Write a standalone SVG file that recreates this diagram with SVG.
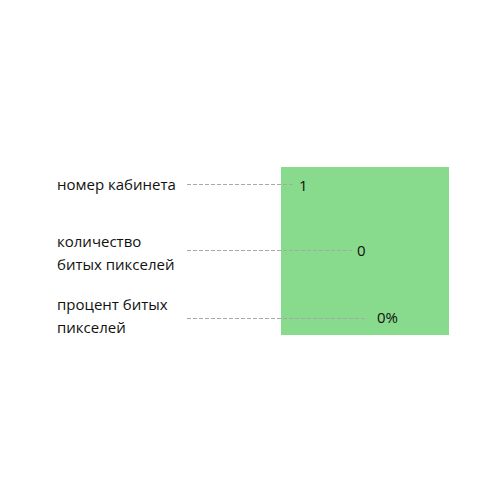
<svg xmlns="http://www.w3.org/2000/svg" width="500" height="500" viewBox="0 0 500 500">
<style>
text{font-family:"Open Sans","Noto Sans",sans-serif;font-size:15px;fill:#111}
.c line{stroke:#a8a8a8;stroke-width:1;stroke-dasharray:4 2}
</style>
<rect width="500" height="500" fill="#fff"/>
<g id="panel"><rect x="281" y="167" width="168" height="168" fill="#88da8c"/></g>
<g class="c" id="connectors">
<line x1="187" y1="184.5" x2="293" y2="184.5"/>
<line x1="187" y1="250.5" x2="352" y2="250.5"/>
<line x1="187" y1="318.5" x2="366" y2="318.5"/>
</g>
<g id="label1"><text x="57" y="190">номер кабинета</text></g>
<g id="value1"><text x="299" y="191">1</text></g>
<g id="label2"><text x="57" y="247">количество</text><text x="57" y="270">битых пикселей</text></g>
<g id="value2"><text x="357" y="256">0</text></g>
<g id="label3"><text x="57" y="310">процент битых</text><text x="57" y="333">пикселей</text></g>
<g id="value3"><text x="377" y="323">0%</text></g>
</svg>
